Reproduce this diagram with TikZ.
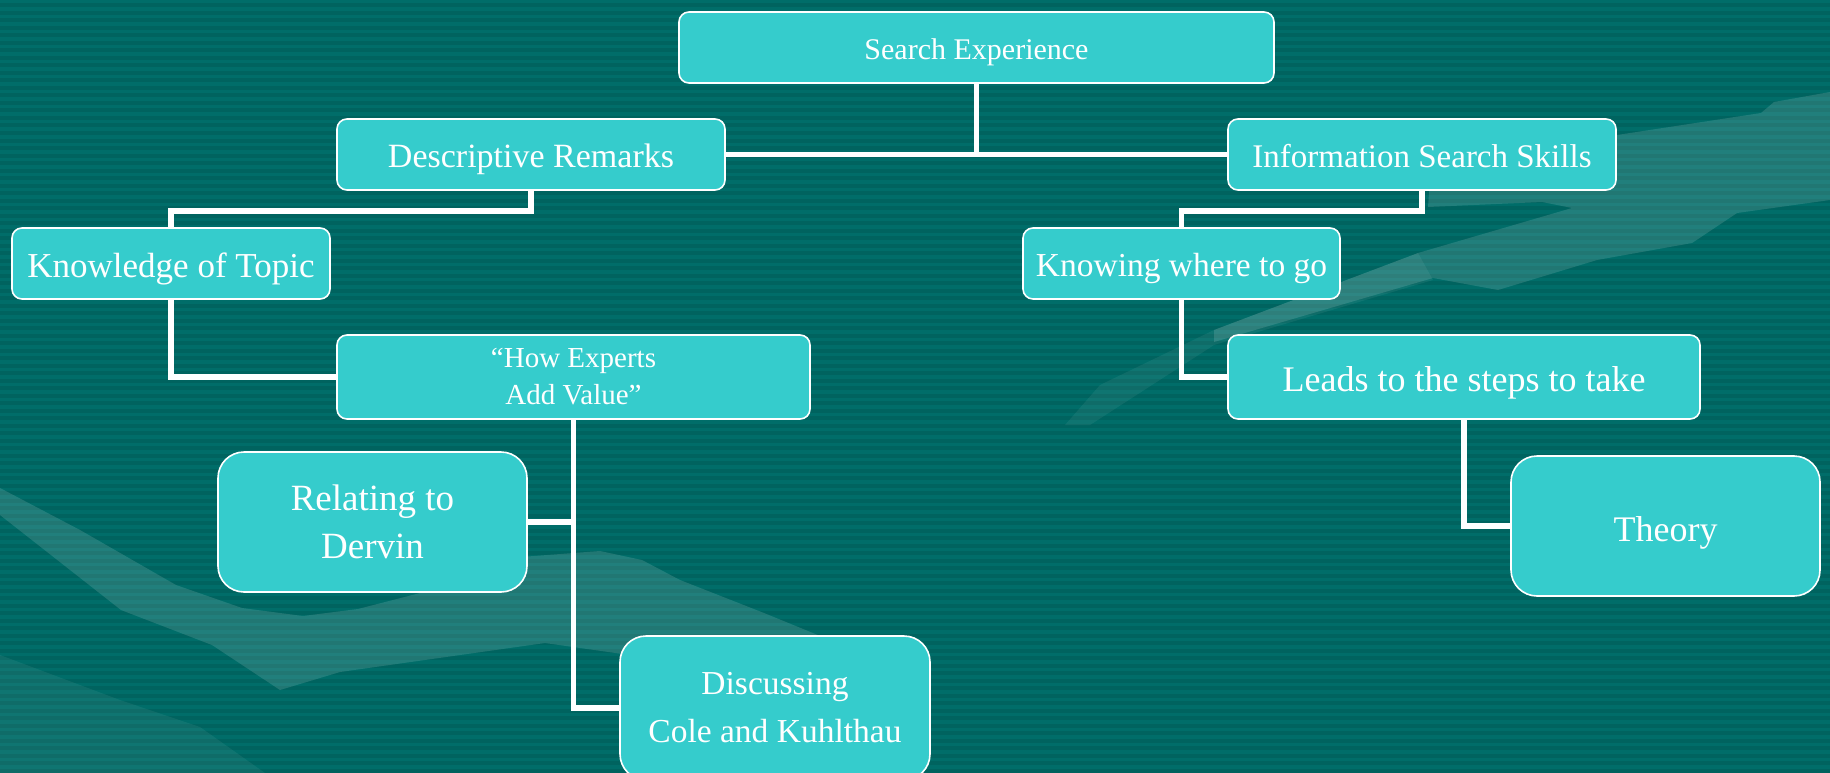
\documentclass[tikz,border=0pt]{standalone}
\usepackage{fontspec}
\setmainfont{Liberation Serif}
\definecolor{bgteal}{HTML}{00635F}
\definecolor{stripeteal}{HTML}{006D69}
\definecolor{boxfill}{HTML}{35CCCC}
\newcommand{\fs}[2]{\fontsize{#1}{#2}\selectfont}
\begin{document}
\begin{tikzpicture}[x=1pt,y=-1pt,
  box/.style={draw=white, line width=1.6pt, fill=boxfill, rounded corners=10pt,
    text=white, align=center, inner sep=0pt},
  oneline/.style={text height=#1, text depth=0pt},
  tallbox/.style={box, rounded corners=26pt},
  link/.style={draw=white, line width=5.5pt},
  swoosh/.style={fill=white, fill opacity=0.13},
  faint/.style={fill=white, fill opacity=0.06}]

% background: striped teal with light swooshes
\fill[bgteal] (0,0) rectangle (1830,773);
\useasboundingbox (0,0) rectangle (1830,773);
\foreach \y in {0,7.5,...,773}
  \fill[stripeteal] (0,\y) rectangle (1830,\y+3.5);

\fill[swoosh] (1830,92) -- (1774,102) -- (1761,113) -- (1617,135) -- (1500,150)
  -- (1430,180) -- (1428,207) -- (1542,202) -- (1572,208) -- (1418,253)
  -- (1214,330) -- (1214,342) -- (1433,278) -- (1498,290) -- (1597,260)
  -- (1692,243) -- (1737,213) -- (1830,200) -- cycle;
\fill[faint] (1418,253) -- (1214,330) -- (1100,385) -- (1065,425) -- (1090,425)
  -- (1214,345) -- (1433,280) -- cycle;

\fill[swoosh] (0,488) -- (80,530) -- (176,585) -- (242,608) -- (303,616)
  -- (358,609) -- (424,592) -- (521,557) -- (600,551) -- (642,560) -- (680,580)
  -- (764,613) -- (830,640) -- (830,700) -- (700,665) -- (545,643) -- (340,672)
  -- (280,690) -- (212,645) -- (121,610) -- (0,515) -- cycle;
\fill[faint] (0,655) -- (120,700) -- (200,727) -- (265,773) -- (0,773) -- cycle;

% nodes
\node[box, oneline=24pt, minimum width=595pt, minimum height=71pt, font=\fs{30}{36}] (se)
  at (976.5,47.5) {Search Experience};
\node[box, oneline=26.5pt, minimum width=388pt, minimum height=71pt, font=\fs{34}{40}] (dr)
  at (531,154.5) {Descriptive Remarks};
\node[box, oneline=26pt, minimum width=388pt, minimum height=71pt, font=\fs{33}{40}] (iss)
  at (1422,154.5) {Information Search Skills};
\node[box, oneline=27.5pt, minimum width=318pt, minimum height=71pt, font=\fs{35}{40}] (kot)
  at (171,263.5) {Knowledge of Topic};
\node[box, oneline=26.5pt, minimum width=317pt, minimum height=71pt, font=\fs{33.5}{40}] (kw)
  at (1181.5,263.5) {Knowing where to go};
\node[box, minimum width=473pt, minimum height=84pt, font=\fs{29}{37}] (hea)
  at (573.5,377) {“How Experts\\ Add Value”};
\node[box, oneline=28.5pt, minimum width=472pt, minimum height=84pt, font=\fs{36}{42}] (lead)
  at (1464,377) {Leads to the steps to take};
\node[tallbox, minimum width=309pt, minimum height=140pt, font=\fs{37}{48}] (rel)
  at (372.5,522) {Relating to\\ Dervin};
\node[tallbox, oneline=30pt, minimum width=309pt, minimum height=140pt, font=\fs{36}{42}] (thy)
  at (1665.5,526) {Theory};
\node[tallbox, minimum width=310pt, minimum height=144pt, font=\fs{33.5}{48}] (disc)
  at (775,708) {Discussing\\ Cole and Kuhlthau};

% connectors
\draw[link] (se.south) -- (se.south |- dr.east);
\draw[link] (dr.east) -- (iss.west);
\draw[link] (dr.south) -- ++(0,20) -| (kot.north);
\draw[link] (iss.south) -- ++(0,20) -| (kw.north);
\draw[link] (kot.south) |- (hea.west);
\draw[link] (kw.south) |- (lead.west);
\draw[link] (hea.south) |- (disc.west);
\draw[link] (rel.east) -- (rel.east -| hea.south);
\draw[link] (lead.south) |- (thy.west);
\end{tikzpicture}
\end{document}
